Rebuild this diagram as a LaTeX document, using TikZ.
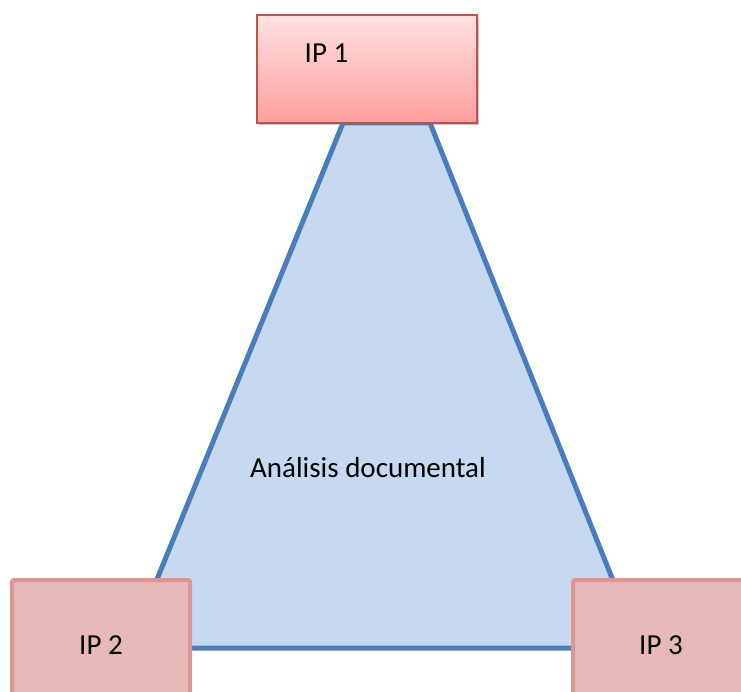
\documentclass[tikz,border=0pt]{standalone}
\usepackage{fontspec}
\setmainfont{Carlito}
\usetikzlibrary{shadows}
\definecolor{triline}{HTML}{4A7EBB}
\definecolor{trifill}{HTML}{C6D9F0}
\definecolor{topborder}{HTML}{C0504D}
\definecolor{toptop}{HTML}{FFE1E1}
\definecolor{topbot}{HTML}{FF9E9E}
\definecolor{boxfill}{HTML}{E6B9B8}
\definecolor{boxborder}{HTML}{D99694}
\tikzset{
  x=1pt,y=1pt,
  topbox/.style={draw=topborder, line width=1.5pt, top color=toptop, bottom color=topbot,
    minimum width=220pt, minimum height=108pt, inner sep=0pt,
    drop shadow={shadow xshift=1.5pt, shadow yshift=-2pt, opacity=0.35, fill=black!60}},
  lowbox/.style={draw=boxborder, fill=boxfill, line width=4pt, rounded corners=2pt, inner sep=0pt},
  lbl/.style={font=\fontsize{29}{34}\selectfont, anchor=base, inner sep=0pt, text=black}
}
\begin{document}
\begin{tikzpicture}
\useasboundingbox (0,0) rectangle (741,-692);
\clip (0,0) rectangle (741,-692);
\coordinate (t1) at (343,-123);
\coordinate (t2) at (430,-123);
\coordinate (t3) at (640,-648);
\coordinate (t4) at (129,-648);
\draw[triline, fill=trifill, line width=5pt, line join=round] (t1) -- (t2) -- (t3) -- (t4) -- cycle;
\node[topbox] (ip1box) at (367,-69) {};
\node[lowbox, minimum width=178pt, minimum height=130pt] (ip2box) at (101,-645) {};
\node[lowbox, minimum width=190pt, minimum height=130pt] (ip3box) at (668,-645) {};
\node[lbl] (ip1) at (326.5,-63) {IP 1};
\node[lbl] (ip2) at (101,-654) {IP 2};
\node[lbl] (ip3) at (661,-654) {IP 3};
\node[lbl] (doc) at (368,-477) {Análisis documental};
\end{tikzpicture}
\end{document}
